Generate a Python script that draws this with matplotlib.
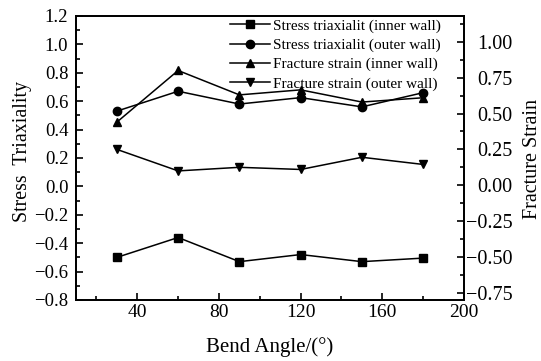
import numpy as np
import matplotlib
matplotlib.use("Agg")
import matplotlib.pyplot as plt
from matplotlib.ticker import FuncFormatter

plt.rcParams['font.family'] = ['Liberation Serif', 'DejaVu Serif']
plt.rcParams['axes.unicode_minus'] = True

# data
angle = [30, 60, 90, 120, 150, 180]
st_inner = [-0.50, -0.36, -0.53, -0.48, -0.53, -0.505]
st_outer = [0.53, 0.67, 0.58, 0.625, 0.56, 0.66]
fs_inner = [0.44, 0.80, 0.63, 0.665, 0.58, 0.61]
fs_outer = [0.25, 0.10, 0.125, 0.11, 0.195, 0.145]

labels = ["Stress triaxialit (inner wall)", "Stress triaxialit (outer wall)",
          "Fracture strain (inner wall)", "Fracture strain (outer wall)"]


def fmt(nd):
    def f(v, pos):
        s = "%.*f" % (nd, round(v, nd) + 0.0)
        if s.startswith("-") and float(s) == 0:
            s = s[1:]
        return s.replace("-", "\u2212")
    return FuncFormatter(f)


fig = plt.figure(figsize=(5.41, 3.61), dpi=100)
ax = fig.add_axes([0.1405, 0.169, 0.7172, 0.7867])
ax2 = ax.twinx()

l1, = ax.plot(angle, st_inner, 'k-s', lw=1.1, ms=5.5)
l2, = ax.plot(angle, st_outer, 'k-o', lw=1.1, ms=6)
l3, = ax2.plot(angle, fs_inner, 'k-^', lw=1.1, ms=6)
l4, = ax2.plot(angle, fs_outer, 'k-v', lw=1.1, ms=6)

ax.set_xlim(10, 200)
ax.set_ylim(-0.8, 1.2)
ax2.set_ylim(-0.8, 1.18)

ax.set_xticks(np.arange(40, 201, 40))
ax.set_xticks(np.arange(20, 201, 20), minor=True)
ax.set_yticks(np.arange(-0.8, 1.21, 0.2))
ax.set_yticks(np.arange(-0.8, 1.21, 0.1), minor=True)
ax2.set_yticks(np.arange(-0.75, 1.01, 0.25))
ax2.set_yticks(np.arange(-0.75, 1.13, 0.125), minor=True)
ax.yaxis.set_major_formatter(fmt(1))
ax2.yaxis.set_major_formatter(fmt(2))

for a in (ax, ax2):
    a.tick_params(which='both', direction='in', width=1.2)
    a.tick_params(which='major', length=5)
    a.tick_params(which='minor', length=3)
    for s in a.spines.values():
        s.set_linewidth(1.3)
ax.tick_params(axis='y', labelsize=13.5, pad=5.5)
ax.tick_params(axis='x', labelsize=14, pad=3)
# right labels are right-aligned in the reference
ax2.tick_params(axis='y', labelsize=14.5, pad=35)
for t in ax2.get_yticklabels():
    t.set_horizontalalignment('right')

ax.set_xlabel("Bend Angle/(°)", fontsize=15)
ax.set_ylabel("Stress  Triaxiality", fontsize=14.3)
ax2.set_ylabel("Fracture Strain", fontsize=14.5)
ax.xaxis.set_label_coords(0.5, -0.132)
ax.yaxis.set_label_coords(-0.113, 0.523)
ax2.yaxis.set_label_coords(1.152, 0.498)

ax.legend([l1, l2, l3, l4], labels, loc='upper left', bbox_to_anchor=(0.397, 0.99),
          frameon=False, fontsize=11, borderpad=0, borderaxespad=0,
          handlelength=2.6, handletextpad=0.2, labelspacing=0.36, numpoints=1)

fig.savefig("out.png", dpi=100)
